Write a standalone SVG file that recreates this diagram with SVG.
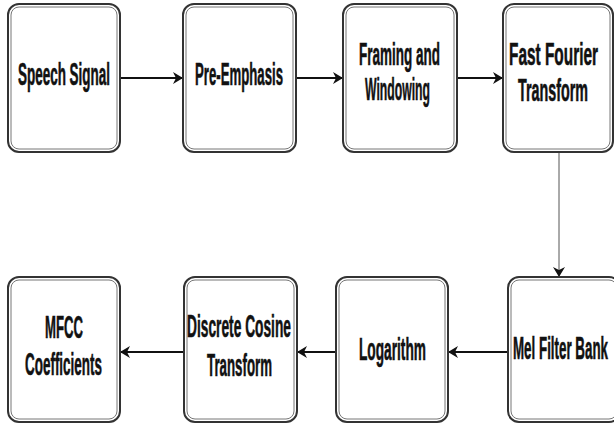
<svg xmlns="http://www.w3.org/2000/svg" width="614" height="425" viewBox="0 0 614 425">
<defs>
<marker id="ah" markerWidth="10" markerHeight="12" refX="10" refY="6" orient="auto" markerUnits="userSpaceOnUse">
<path d="M0,0 L10,6 L0,12 L3,6 z" fill="#111"/>
</marker>
<style>
.outer{fill:#fff;stroke:#333;stroke-width:2}
.inner{fill:none;stroke:#777;stroke-width:1}
.lbl{font-family:"Liberation Sans",Arial,sans-serif;font-weight:bold;font-size:31px;fill:#111;stroke:#111;stroke-width:0.6}
.conn{stroke:#111;stroke-width:2;fill:none}
.thin{stroke:#555;stroke-width:1;fill:none}
</style>
</defs>
<rect width="614" height="425" fill="#fff"/>
<g id="connectors">
<line class="conn" x1="120" y1="78" x2="183" y2="78" marker-end="url(#ah)"/>
<line class="conn" x1="296" y1="78" x2="343" y2="78" marker-end="url(#ah)"/>
<line class="conn" x1="457" y1="78" x2="503" y2="78" marker-end="url(#ah)"/>
<line class="thin" x1="559" y1="152" x2="559" y2="277" marker-end="url(#ah)"/>
<line class="conn" x1="508" y1="352" x2="448" y2="352" marker-end="url(#ah)"/>
<line class="conn" x1="336" y1="352" x2="297" y2="352" marker-end="url(#ah)"/>
<line class="conn" x1="184" y1="352" x2="120" y2="352" marker-end="url(#ah)"/>
</g>
<g id="speech">
<rect class="outer" x="8" y="4" width="112" height="148" rx="11"/>
<rect class="inner" x="11" y="7" width="106" height="142" rx="8"/>
<text class="lbl" transform="scale(0.5,1)" x="36" y="85" textLength="184" lengthAdjust="spacingAndGlyphs">Speech Signal</text>
</g>
<g id="preemph">
<rect class="outer" x="183" y="4" width="113" height="148" rx="11"/>
<rect class="inner" x="186" y="7" width="107" height="142" rx="8"/>
<text class="lbl" transform="scale(0.5,1)" x="390" y="85" textLength="176" lengthAdjust="spacingAndGlyphs">Pre-Emphasis</text>
</g>
<g id="framing">
<rect class="outer" x="343" y="4" width="114" height="148" rx="11"/>
<rect class="inner" x="346" y="7" width="108" height="142" rx="8"/>
<text class="lbl" transform="scale(0.5,1)" x="718" y="65" textLength="162" lengthAdjust="spacingAndGlyphs">Framing and</text>
<text class="lbl" transform="scale(0.5,1)" x="730" y="100" textLength="130" lengthAdjust="spacingAndGlyphs">Windowing</text>
</g>
<g id="fft">
<rect class="outer" x="503" y="4" width="110" height="148" rx="11"/>
<rect class="inner" x="506" y="7" width="104" height="142" rx="8"/>
<text class="lbl" transform="scale(0.5,1)" x="1018" y="65" textLength="178" lengthAdjust="spacingAndGlyphs">Fast Fourier</text>
<text class="lbl" transform="scale(0.5,1)" x="1036" y="101" textLength="140" lengthAdjust="spacingAndGlyphs">Transform</text>
</g>
<g id="mel">
<rect class="outer" x="508" y="277" width="112" height="145" rx="11"/>
<rect class="inner" x="511" y="280" width="106" height="139" rx="8"/>
<text class="lbl" transform="scale(0.5,1)" x="1026" y="359" textLength="190" lengthAdjust="spacingAndGlyphs">Mel Filter Bank</text>
</g>
<g id="log">
<rect class="outer" x="336" y="277" width="112" height="145" rx="11"/>
<rect class="inner" x="339" y="280" width="106" height="139" rx="8"/>
<text class="lbl" transform="scale(0.5,1)" x="718" y="360" textLength="134" lengthAdjust="spacingAndGlyphs">Logarithm</text>
</g>
<g id="dct">
<rect class="outer" x="184" y="277" width="113" height="145" rx="11"/>
<rect class="inner" x="187" y="280" width="107" height="139" rx="8"/>
<text class="lbl" transform="scale(0.5,1)" x="374" y="337" textLength="208" lengthAdjust="spacingAndGlyphs">Discrete Cosine</text>
<text class="lbl" transform="scale(0.5,1)" x="414" y="376" textLength="130" lengthAdjust="spacingAndGlyphs">Transform</text>
</g>
<g id="mfcc">
<rect class="outer" x="8" y="277" width="112" height="145" rx="11"/>
<rect class="inner" x="11" y="280" width="106" height="139" rx="8"/>
<text class="lbl" transform="scale(0.5,1)" x="90" y="338" textLength="76" lengthAdjust="spacingAndGlyphs">MFCC</text>
<text class="lbl" transform="scale(0.5,1)" x="50" y="375" textLength="154" lengthAdjust="spacingAndGlyphs">Coefficients</text>
</g>
</svg>
